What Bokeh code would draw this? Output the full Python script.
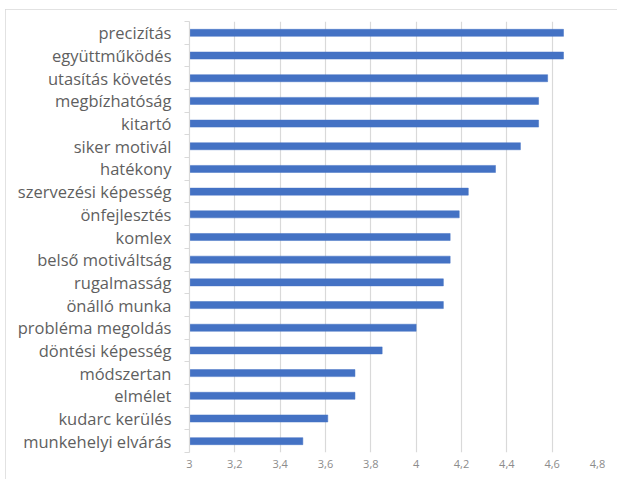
from bokeh.plotting import figure
from bokeh.models import Range1d, FixedTicker
from bokeh.embed import file_html
from bokeh.resources import INLINE

categories = ["precizítás", "együttműködés", "utasítás követés", "megbízhatóság",
              "kitartó", "siker motivál", "hatékony", "szervezési képesség",
              "önfejlesztés", "komlex", "belső motiváltság", "rugalmasság",
              "önálló munka", "probléma megoldás", "döntési képesség",
              "módszertan", "elmélet", "kudarc kerülés", "munkehelyi elvárás"]
values = [4.65, 4.65, 4.58, 4.54, 4.54, 4.46, 4.35, 4.23, 4.19, 4.15,
          4.15, 4.12, 4.12, 4.00, 3.85, 3.73, 3.73, 3.61, 3.50]
x_ticks = [3.0, 3.2, 3.4, 3.6, 3.8, 4.0, 4.2, 4.4, 4.6, 4.8]
x_labels = ["3", "3,2", "3,4", "3,6", "3,8", "4", "4,2", "4,4", "4,6", "4,8"]

x_min, x_max = x_ticks[0], x_ticks[-1]
n = len(categories)
# category slot centres (first category on top) and slot boundaries
y_pos = [n - i - 0.5 for i in range(n)]
y_bounds = list(range(n + 1))

p = figure(width=612, height=470,
           y_range=Range1d(0, n),
           x_range=Range1d(x_min, x_max),
           output_backend="svg", toolbar_location=None,
           min_border_left=184, min_border_right=20,
           min_border_top=12, min_border_bottom=27)
p.outline_line_color = None
p.background_fill_color = "white"
p.border_fill_color = "white"
p.styles = {"margin-left": "5px", "margin-top": "9px",
            "outline": "1px solid #d9d9d9", "outline-offset": "-1px"}

p.hbar(y=y_pos, left=x_min, right=values, height=0.31,
       fill_color="#4472C4", line_color="#4472C4", line_width=0.5)

# x axis
p.xaxis.ticker = FixedTicker(ticks=x_ticks)
p.xaxis.major_label_overrides = {t: l for t, l in zip(x_ticks, x_labels)}
p.xaxis.axis_line_color = None
p.xaxis.major_tick_line_color = None
p.xaxis.minor_tick_line_color = None
p.xaxis.major_tick_out = 0
p.xaxis.major_label_standoff = 7
p.xaxis.major_label_text_font = "Open Sans"
p.xaxis.major_label_text_font_size = "11px"
p.xaxis.major_label_text_color = "#8c8c8c"

p.xgrid.grid_line_color = "#d9d9d9"
p.xgrid.grid_line_width = 1.2
p.xgrid.ticker = FixedTicker(ticks=x_ticks)
p.ygrid.grid_line_color = None

# y axis: category labels at slot centres, small ticks at slot boundaries
p.yaxis.ticker = FixedTicker(ticks=y_pos, minor_ticks=y_bounds)
p.yaxis.major_label_overrides = {y: c for y, c in zip(y_pos, categories)}
p.yaxis.axis_line_color = "#d9d9d9"
p.yaxis.axis_line_width = 1.2
p.yaxis.major_tick_line_color = None
p.yaxis.major_tick_out = 0
p.yaxis.major_tick_in = 0
p.yaxis.minor_tick_line_color = "#d9d9d9"
p.yaxis.minor_tick_out = 5
p.yaxis.minor_tick_in = 0
p.yaxis.major_label_standoff = 13
p.yaxis.major_label_text_font = "Open Sans"
p.yaxis.major_label_text_font_size = "16.5px"
p.yaxis.major_label_text_color = "#5f5f5f"

open("out.html", "w").write(file_html(p, INLINE))
